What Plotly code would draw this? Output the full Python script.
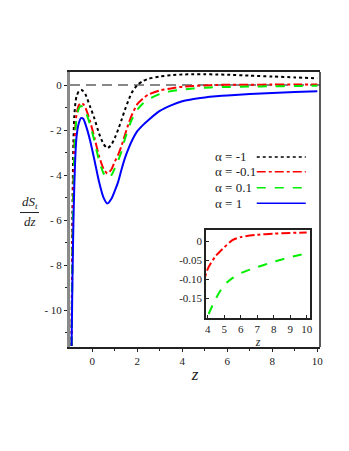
import plotly.graph_objects as go

# sample points
z = [-0.92, -0.88, -0.84, -0.8, -0.75, -0.7, -0.6, -0.5, -0.4, -0.3, -0.1, 0.1, 0.3, 0.5, 0.67,
     0.85, 1.0, 1.15, 1.3, 1.45, 1.6, 1.75, 2.0, 2.25, 2.5, 3.0, 3.5, 4.0, 4.5, 5.0, 5.5, 6.0,
     7.0, 8.0, 9.0, 10.0]

ds_m1 = [-11.6, -5.5, -2.6, -1.4, -0.8, -0.5, -0.28, -0.22, -0.27, -0.42, -0.95, -1.5, -2.15, -2.62, -2.81,
         -2.65, -2.35, -1.98, -1.55, -1.1, -0.7, -0.35, 0.0, 0.18, 0.28, 0.38, 0.44, 0.47, 0.48, 0.48, 0.47, 0.46,
         0.42, 0.38, 0.34, 0.3]
ds_m01 = [-11.6, -7.0, -4.4, -2.8, -1.8, -1.3, -0.9, -0.79, -0.85, -1.02, -1.6, -2.35, -3.15, -3.72, -3.93,
          -3.75, -3.4, -3.1, -2.7, -2.22, -1.75, -1.35, -0.85, -0.6, -0.42, -0.24, -0.15, -0.073, -0.038, -0.016, 0.003, 0.011,
          0.017, 0.02, 0.022, 0.023]
ds_p01 = [-11.6, -7.5, -4.9, -3.1, -2.0, -1.5, -1.05, -0.93, -0.98, -1.15, -1.75, -2.5, -3.35, -3.92, -4.15,
          -4.0, -3.7, -3.35, -2.95, -2.4, -1.95, -1.55, -1.1, -0.82, -0.63, -0.4, -0.27, -0.198, -0.15, -0.115, -0.097, -0.084,
          -0.068, -0.054, -0.042, -0.032]
ds_p1 = [-11.6, -8.5, -6.2, -4.5, -3.1, -2.3, -1.7, -1.47, -1.5, -1.75, -2.45, -3.35, -4.3, -5.0, -5.26,
         -5.05, -4.7, -4.3, -3.75, -3.25, -2.85, -2.5, -2.05, -1.78, -1.55, -1.15, -0.9, -0.72, -0.62, -0.55, -0.5, -0.46,
         -0.4, -0.35, -0.31, -0.27]

alpha_labels = ["α = -1", "α = -0.1", "α = 0.1", "α = 1"]
colors = ["#000000", "#ff0000", "#00ee00", "#0000ff"]
dashes = ["dot", "dashdot", "dash", "solid"]
series = [ds_m1, ds_m01, ds_p01, ds_p1]

x_ticks = [0, 2, 4, 6, 8, 10]
x_ticktext = ["0", "2", "4", "6", "8", "10"]
y_ticks = [0, -2, -4, -6, -8, -10]
y_ticktext = ["0", "- 2", "- 4", "- 6", "- 8", "- 10"]
inset_x_ticks = [4, 5, 6, 7, 8, 9, 10]
inset_y_ticks = [0, -0.05, -0.10, -0.15]
inset_y_ticktext = ["0", "-0.05", "-0.10", "-0.15"]

serif = "Liberation Serif, Times New Roman, serif"

fig = go.Figure()

for vals, col, dsh in zip(series, colors, dashes):
    fig.add_trace(go.Scatter(x=z, y=vals, mode="lines",
                             line=dict(color=col, width=2, dash=dsh, shape="spline", smoothing=0.6),
                             showlegend=False, xaxis="x", yaxis="y"))

# inset: only the two curves that stay near zero
for vals, col, dsh in [(ds_m01, colors[1], dashes[1]), (ds_p01, colors[2], dashes[2])]:
    fig.add_trace(go.Scatter(x=z, y=vals, mode="lines",
                             line=dict(color=col, width=2, dash=dsh, shape="spline", smoothing=0.6),
                             showlegend=False, xaxis="x2", yaxis="y2"))

# zero reference lines
fig.add_shape(type="line", xref="x domain", yref="y", x0=0, x1=1, y0=0, y1=0,
              line=dict(color="#888888", width=2, dash="10px,6px"), layer="below")
fig.add_shape(type="line", xref="x2 domain", yref="y2", x0=0, x1=1, y0=0, y1=0,
              line=dict(color="#888888", width=2, dash="10px,6px"), layer="below")
# right side of the main frame (left axis is drawn grey)
fig.add_shape(type="line", xref="x domain", yref="y domain", x0=1, x1=1, y0=0, y1=1,
              line=dict(color="#222", width=1.5))

# hand-built legend (text on the left, line sample on the right)
leg_y = [0.691, 0.637, 0.579, 0.523]
for lab, col, dsh, ly in zip(alpha_labels, colors, dashes, leg_y):
    fig.add_annotation(xref="paper", yref="paper", x=0.572, y=ly, text=lab, showarrow=False,
                       xanchor="left", yanchor="middle", font=dict(family=serif, size=13, color="#222"))
    fig.add_shape(type="line", xref="paper", yref="paper", x0=0.747, x1=0.943, y0=ly, y1=ly,
                  line=dict(color=col, width=1.5, dash=dsh))

# y axis label as a fraction
fig.add_annotation(xref="paper", yref="paper", x=-0.162, y=0.525, text="<i>dS<sub>t</sub></i>", showarrow=False,
                   xanchor="center", font=dict(family=serif, size=13, color="#222"))
fig.add_annotation(xref="paper", yref="paper", x=-0.162, y=0.455, text="<i>dz</i>", showarrow=False,
                   xanchor="center", font=dict(family=serif, size=13, color="#222"))
fig.add_shape(type="line", xref="paper", yref="paper", x0=-0.2, x1=-0.124, y0=0.489, y1=0.489,
              line=dict(color="#222", width=1))

axis_common = dict(showline=True, linecolor="#222", linewidth=1.5, showgrid=False,
                   zeroline=False, ticks="outside", tickcolor="#222", ticklen=3,
                   tickfont=dict(family=serif, size=11, color="#222"))

fig.update_layout(
    width=349, height=451,
    margin=dict(l=62, r=37, t=64, b=112),
    paper_bgcolor="white", plot_bgcolor="white",
    xaxis=dict(range=[-0.99, 10.12], tickmode="array", tickvals=x_ticks, ticktext=x_ticktext, mirror=True,
               minor=dict(dtick=1, tick0=1, ticklen=2, ticks="outside", tickcolor="#222"),
               title=dict(text="<i>z</i>", font=dict(family=serif, size=17, color="#222"), standoff=2),
               **axis_common),
    yaxis=dict(range=[-11.64, 0.58], tickmode="array", tickvals=y_ticks, ticktext=y_ticktext,
               minor=dict(dtick=1, tick0=1, ticklen=2, ticks="outside", tickcolor="#222"),
               **{**axis_common, "linecolor": "#8a8a8a", "linewidth": 3}),
    xaxis2=dict(domain=[0.544, 0.96], anchor="y2", range=[3.9, 10.2], tickmode="array",
                tickvals=inset_x_ticks, mirror=True,
                title=dict(text="<i>z</i>", font=dict(family=serif, size=12, color="#222"), standoff=2),
                **{**axis_common, "ticks": "inside"}),
    yaxis2=dict(domain=[0.1065, 0.4255], anchor="x2", range=[-0.201, 0.0297], tickmode="array",
                tickvals=inset_y_ticks, ticktext=inset_y_ticktext, mirror=True,
                **{**axis_common, "ticks": "inside"}),
)

fig.write_html("out.html")
